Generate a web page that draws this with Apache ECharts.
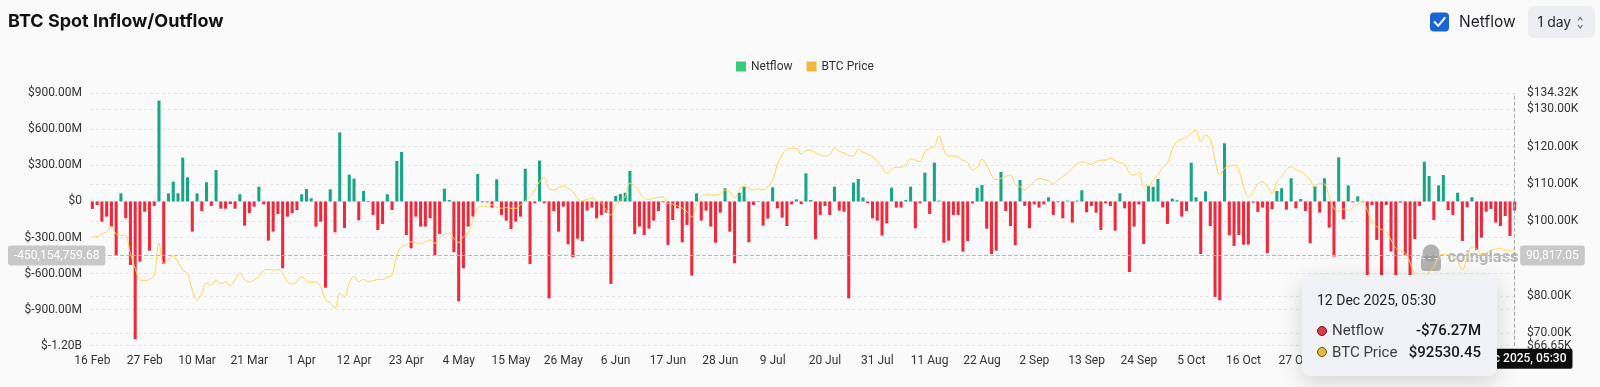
<!DOCTYPE html>
<html><head><meta charset="utf-8">
<script src="https://cdn.jsdelivr.net/npm/echarts@6/dist/echarts.min.js"></script>
<style>
html,body{margin:0;padding:0;background:#fafafa;width:1600px;height:387px;overflow:hidden;}
#chart{position:absolute;left:8px;top:0;width:1592px;height:387px;}
</style></head><body><div id="chart"></div>
<script>
// ---------- data ----------
const startDate = [2025, 1, 16]; // 16 Feb 2025 (month 0-based)
const dayCount = 300;
const timeLabel = '05:30';
const monthNames = ['Jan','Feb','Mar','Apr','May','Jun','Jul','Aug','Sep','Oct','Nov','Dec'];

// Netflow in millions USD, one per day
const netflowM = [
  -62, -29, -168, -126, -209, -445, 68, -140, -528, -1146,
  -500, -85, -409, -37, 839, -520, 68, 165, 68, 365,
  201, -251, 68, -79, 160, -37, 262, -60, -60, -21,
  -60, 60, -201, -98, -43, 123, -24, -326, -251, -104,
  -556, -126, -98, -71, 60, 104, 26, -209, -168, -717,
  101, -257, 575, -220, 223, 190, -157, 87, -5, -112,
  -237, -187, 60, -71, 337, 412, -279, -390, -126, -209,
  -209, -140, -445, -270, 107, 12, -423, -830, -556, -209,
  -126, 229, -7, -7, -51, 184, -112, -159, -229, -168,
  -126, 273, -520, -15, 340, -15, -806, -79, -251, -43,
  -356, -465, -309, -331, -76, -51, -140, -112, -93, -686,
  46, 62, 73, 254, -270, -209, -279, -226, -159, -79,
  -7, -361, -154, -57, -340, -195, -617, 68, -159, -76,
  -209, -343, -93, 110, -251, -514, 73, 123, -340, -29,
  -4, -201, -143, 118, -57, -134, -204, -24, 18, -21,
  234, 12, -312, -112, -37, -112, 123, -76, -85, -806,
  157, 187, 33, -15, -140, -159, -284, -182, 115, -51,
  -51, 12, 123, -223, -15, 240, -104, 323, 7, -343,
  -326, -112, -112, -417, -329, -15, 115, 137, -226, -437,
  -409, 245, -79, -204, -365, 179, -37, -223, -24, -51,
  -24, 35, -112, -7, -140, 7, -176, 7, 93, -90,
  -37, -93, -237, -15, -37, -243, 68, -57, -587, -209,
  -24, -354, 129, 123, 187, -49, -187, 24, 10, -126,
  -79, 323, 35, -437, 85, -204, -794, -822, 484, -281,
  -370, -279, -359, -359, -10, -87, -51, -431, -65, 87,
  110, -68, 193, -57, 21, -79, -348, 129, -93, 193,
  -218, -459, 367, -148, 134, -7, 43, -5, -750, -29,
  -320, -830, -29, -417, -720, -10, -445, -780, -312, -37,
  331, 212, -154, 134, 220, -71, -112, 73, -329, -49,
  35, -403, -301, -85, -62, -176, -204, -121, -287, -76.27
];

// BTC price in thousands USD, one per day
const priceK = [
  96.06, 95.9, 96.6, 97.2, 98.6, 96.6, 96.3, 96.06, 91.4, 87.4,
  84.4, 84.1, 84.4, 85.6, 94.1, 88.7, 89.6, 90.7, 89.2, 86.9,
  86.0, 81.6, 78.9, 80.7, 83.4, 82.9, 84.3, 83.2, 83.8, 82.7,
  84.3, 86.2, 84.3, 83.8, 84.3, 85.2, 86.8, 87.1, 86.9, 87.1,
  86.0, 83.8, 83.2, 83.8, 85.2, 84.1, 83.6, 83.8, 82.5, 78.9,
  78.2, 76.7, 80.7, 79.8, 83.4, 85.2, 83.8, 84.4, 83.8, 84.1,
  84.4, 84.4, 85.0, 85.6, 91.0, 93.2, 93.6, 94.5, 94.3, 93.9,
  94.5, 95.0, 94.1, 95.4, 96.6, 96.8, 95.4, 94.3, 95.9, 96.8,
  100.4, 103.5, 104.1, 103.9, 104.4, 103.9, 103.5, 103.7, 103.5, 103.5,
  104.4, 105.5, 106.6, 108.4, 110.6, 111.7, 108.8, 108.4, 109.1, 109.5,
  108.8, 107.9, 106.2, 105.5, 105.9, 106.2, 105.5, 105.0, 103.0, 101.7,
  104.4, 105.5, 106.6, 110.2, 109.5, 107.9, 106.2, 105.9, 106.2, 106.4,
  106.6, 104.8, 104.6, 104.1, 103.5, 102.6, 101.2, 104.4, 106.6, 107.1,
  107.1, 107.1, 107.3, 108.4, 107.9, 106.2, 108.4, 109.5, 108.8, 108.4,
  108.8, 108.4, 109.3, 111.1, 115.1, 117.8, 119.3, 119.6, 119.6, 118.0,
  118.9, 119.1, 118.4, 117.8, 117.5, 117.8, 119.6, 118.8, 118.3, 117.6,
  117.5, 119.3, 118.5, 118.0, 117.3, 116.0, 114.5, 112.9, 113.9, 114.5,
  114.5, 115.1, 116.8, 116.4, 116.0, 118.7, 119.6, 120.0, 122.9, 119.1,
  117.5, 117.5, 117.2, 116.4, 115.7, 113.8, 114.5, 116.6, 115.1, 112.4,
  111.2, 111.5, 112.1, 112.4, 110.0, 109.3, 108.4, 109.5, 110.6, 111.5,
  111.2, 110.9, 110.0, 111.1, 112.0, 113.0, 114.2, 115.5, 116.0, 115.7,
  115.3, 116.0, 116.4, 116.4, 116.9, 116.3, 115.7, 115.4, 112.9, 112.4,
  113.3, 109.5, 109.5, 111.0, 112.5, 114.5, 115.7, 119.2, 121.3, 122.0,
  122.5, 123.6, 124.5, 121.4, 123.1, 122.0, 116.5, 112.4, 114.2, 114.8,
  115.1, 113.8, 109.3, 106.6, 107.9, 110.0, 110.6, 109.3, 107.5, 110.6,
  112.0, 113.9, 114.6, 113.8, 113.3, 112.4, 111.1, 109.3, 110.2, 110.0,
  106.6, 103.5, 102.6, 103.3, 103.0, 103.9, 104.6, 105.3, 103.0, 99.9,
  98.6, 97.8, 97.2, 95.0, 92.8, 92.1, 91.4, 89.0, 85.5, 84.0,
  84.5, 86.5, 87.8, 90.5, 91.2, 90.9, 90.6, 89.4, 87.0, 90.3,
  93.2, 92.6, 91.0, 91.5, 92.3, 92.5, 92.8, 92.3, 92.1, 92.53045
];

// axis extents
const leftAxis = { min: -1.2e9, max: 0.9e9, interval: 3e8 };
const rightAxis = { min: 66654, max: 134324.5 };
const pointerValue = -450154759.68; // crosshair position (left axis value)
const hoverIndex = 299;

// categories: consecutive days
const categories = [];
for (let i = 0; i < dayCount; i++) {
  const d = new Date(Date.UTC(startDate[0], startDate[1], startDate[2] + i));
  categories.push(d.getUTCDate() + ' ' + monthNames[d.getUTCMonth()] + ' ' + d.getUTCFullYear());
}

const GREEN = '#17a584', RED = '#f0283c', LINE = '#f5c24e';
const FONT = 'Roboto, "Noto Sans", sans-serif';

function fmtLeft(v) {
  if (v === 0) return '$0';
  if (Math.abs(v) >= 1e9) return '$' + (v / 1e9).toFixed(2) + 'B';
  return '$' + (v / 1e6).toFixed(2) + 'M';
}
function fmtRight(v) { return '$' + (v / 1000).toFixed(2) + 'K'; }
function fmtNum(v) {
  return Number(v).toLocaleString('en-US', { minimumFractionDigits: 2, maximumFractionDigits: 2 });
}

const barData = netflowM.map(v => ({ value: v * 1e6, itemStyle: { color: v >= 0 ? GREEN : RED } }));
const lineData = priceK.map(v => v * 1000);

const chart = echarts.init(document.getElementById('chart'), null, { renderer: 'canvas' });

const option = {
  animation: false,
  backgroundColor: 'transparent',
  textStyle: { fontFamily: FONT },
  title: {
    text: 'BTC Spot Inflow/Outflow', left: 0, top: 13, padding: 0,
    textStyle: { fontFamily: 'Inter, Roboto, sans-serif', fontSize: 18, fontWeight: 'bold', color: '#111' }
  },
  legend: {
    left: 723, top: 55.5, itemWidth: 10, itemHeight: 10, itemGap: 14, icon: 'rect',
    textStyle: { fontSize: 12, color: '#333', fontFamily: FONT },
    data: [
      { name: 'Netflow', itemStyle: { color: '#3cc97a' } },
      { name: 'BTC Price', itemStyle: { color: '#f0b942' } }
    ]
  },
  grid: { left: 82, right: 82.9, top: 93.3, bottom: 41.3, containLabel: false },
  tooltip: {
    trigger: 'axis',
    alwaysShowContent: true,
    transitionDuration: 0,
    showDelay: 0,
    hideDelay: 0,
    backgroundColor: '#f1f2f5',
    borderWidth: 0,
    padding: [15, 16, 13, 15],
    extraCssText: 'border-radius:8px;box-shadow:0 6px 22px rgba(0,0,0,0.16);width:164px;',
    position: function () { return [1294, 275]; },
    axisPointer: {
      type: 'cross', animation: false,
      lineStyle: { color: '#a8a8a8', type: 'dashed', width: 1 },
      crossStyle: { color: '#b8b8b8', type: 'dashed', width: 1 }
    },
    formatter: function (params) {
      const date = params[0].axisValue + ', ' + timeLabel;
      let html = '<div style="font-family:Roboto,sans-serif;font-size:14px;color:#1d1f24;line-height:20px;margin-bottom:10px;">' + date + '</div>';
      params.forEach(function (p) {
        let val, fill, stroke;
        if (p.seriesName === 'Netflow') {
          val = (p.value < 0 ? '-' : '') + '$' + (Math.abs(p.value) / 1e6).toFixed(2) + 'M';
          fill = p.value < 0 ? '#e23a4d' : '#2fbf86';
          stroke = p.value < 0 ? '#6a1820' : '#145a3e';
        } else {
          val = '$' + Number(p.value).toFixed(2);
          fill = '#e3bb3f'; stroke = '#6e581b';
        }
        html += '<div style="display:flex;align-items:center;font-family:Roboto,sans-serif;font-size:15px;line-height:21.5px;color:#1d1f24;">' +
          '<span style="display:inline-block;width:8px;height:8px;border-radius:50%;background:' + fill + ';border:1px solid ' + stroke + ';margin-right:5px;"></span>' +
          '<span style="flex:1;color:#3a3d44;">' + p.seriesName + '</span>' +
          '<span style="font-weight:500;color:#15171b;">' + val + '</span></div>';
      });
      return html;
    }
  },
  xAxis: {
    type: 'category', data: categories, boundaryGap: true,
    axisLine: { show: false }, axisTick: { show: false },
    axisLabel: {
      interval: 10, color: '#333', fontSize: 12, margin: 9, fontFamily: FONT,
      formatter: function (v) { return v.split(' ').slice(0, 2).join(' '); }
    },
    splitLine: { show: false },
    axisPointer: {
      label: {
        backgroundColor: '#0d0d0d', color: '#fff', fontSize: 12, fontWeight: 500, padding: [4, 6], borderRadius: 2,
        formatter: function (p) { return p.value + ', ' + timeLabel; }
      }
    }
  },
  yAxis: [
    {
      type: 'value', position: 'left', min: leftAxis.min, max: leftAxis.max, interval: leftAxis.interval,
      axisLine: { show: false }, axisTick: { show: false },
      axisLabel: { formatter: fmtLeft, color: '#333', fontSize: 12, margin: 8, fontFamily: FONT },
      splitLine: { lineStyle: { type: [3, 3], color: '#e4e4e6', width: 1 } },
      axisPointer: {
        label: { backgroundColor: '#c8c8ca', color: '#fff', fontSize: 12, padding: [4, 6], borderRadius: 3,
          formatter: function (p) { return fmtNum(p.value); } }
      }
    },
    {
      type: 'value', position: 'right', min: rightAxis.min, max: rightAxis.max,
      axisLine: { show: false }, axisTick: { show: false },
      axisLabel: { formatter: fmtRight, color: '#333', fontSize: 12, margin: 10, fontFamily: FONT },
      splitLine: { lineStyle: { type: [3, 3], color: '#e4e4e6', width: 1 } },
      axisPointer: {
        label: { backgroundColor: '#c8c8ca', color: '#fff', fontSize: 12, padding: [4, 6], borderRadius: 3,
          formatter: function (p) { return fmtNum(p.value); } }
      }
    }
  ],
  series: [
    {
      name: 'Netflow', type: 'bar', yAxisIndex: 0, data: barData,
      itemStyle: { color: '#3cc97a' }, barCategoryGap: '36%', z: 2
    },
    {
      name: 'BTC Price', type: 'line', yAxisIndex: 1, data: lineData,
      smooth: 0.4, showSymbol: false, symbol: 'none',
      lineStyle: { color: LINE, width: 1 }, itemStyle: { color: '#f0b942' }, z: 3
    }
  ],
  graphic: [
    // Netflow checkbox
    { type: 'rect', shape: { x: 1422, y: 12.5, width: 19, height: 19, r: 4 }, style: { fill: '#1766d4' }, z: 10 },
    { type: 'polyline', shape: { points: [[1426.5, 22], [1430.2, 25.8], [1436.8, 17.8]] },
      style: { stroke: '#fff', lineWidth: 2, fill: null, lineCap: 'round', lineJoin: 'round' }, z: 11 },
    { type: 'text', x: 1451, y: 22.5, style: { text: 'Netflow', fill: '#1d1f24', font: '15.5px Inter, Roboto, sans-serif', verticalAlign: 'middle' }, z: 10 },
    // interval selector
    { type: 'rect', shape: { x: 1520, y: 6, width: 67, height: 32, r: 6 }, style: { fill: '#eceef2' }, z: 10 },
    { type: 'text', x: 1529.5, y: 22.5, style: { text: '1 day', fill: '#2a2c31', font: '14px Inter, Roboto, sans-serif', verticalAlign: 'middle' }, z: 11 },
    { type: 'polyline', shape: { points: [[1570, 20.5], [1572.2, 17.5], [1574.4, 20.5]] }, style: { stroke: '#6b6f78', lineWidth: 1.2, fill: null }, z: 11 },
    { type: 'polyline', shape: { points: [[1570, 25], [1572.2, 28], [1574.4, 25]] }, style: { stroke: '#6b6f78', lineWidth: 1.2, fill: null }, z: 11 },
    // watermark
    { type: 'group', z: 50, children: [
      { type: 'circle', shape: { cx: 1423, cy: 253, r: 8.5 }, style: { fill: 'rgba(150,150,150,0.72)' } },
      { type: 'rect', shape: { x: 1413, y: 255, width: 20, height: 16, r: 4 }, style: { fill: 'rgba(150,150,150,0.72)' } },
      { type: 'text', x: 1439.5, y: 258, style: { text: 'coinglass', fill: 'rgba(165,165,165,0.8)', font: 'bold 16.5px Roboto, sans-serif', verticalAlign: 'middle' } }
    ] }
  ]
};

chart.setOption(option);

function showPointer() {
  const px = chart.convertToPixel({ xAxisIndex: 0 }, categories[hoverIndex]);
  const py = chart.convertToPixel({ yAxisIndex: 0 }, pointerValue);
  chart.dispatchAction({ type: 'showTip', x: px, y: py });
}
showPointer();
setTimeout(showPointer, 30);
</script>
</body></html>
